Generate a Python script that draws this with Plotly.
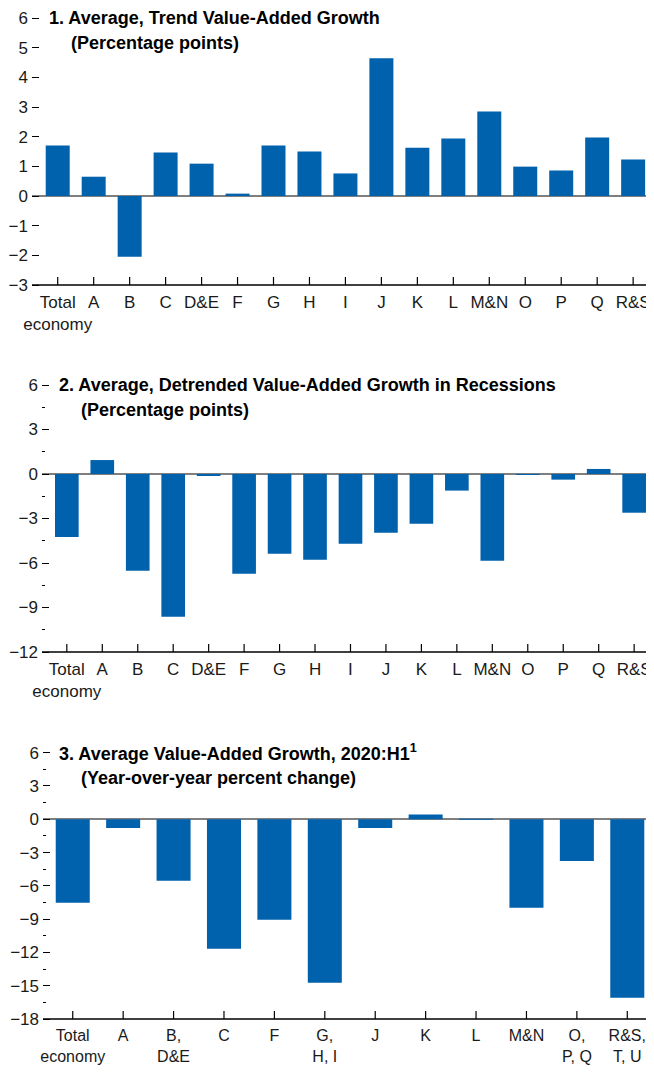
import plotly.graph_objects as go

# ---------------- data ----------------
cats1 = ["Total<br>economy", "A", "B", "C", "D&E", "F", "G", "H", "I", "J", "K",
         "L", "M&N", "O", "P", "Q", "R&S"]
trend_growth = [1.70, 0.65, -2.05, 1.47, 1.09, 0.08, 1.70, 1.50, 0.76, 4.64, 1.63,
                1.94, 2.85, 0.99, 0.86, 1.97, 1.23]

cats2 = cats1
recession_growth = [-4.25, 0.94, -6.52, -9.62, -0.13, -6.72, -5.37, -5.78, -4.70, -3.96,
                    -3.35, -1.12, -5.84, -0.04, -0.38, 0.34, -2.61]

cats3 = ["Total<br>economy", "A", "B,<br>D&E", "C", "F", "G,<br>H, I", "J", "K", "L",
         "M&N", "O,<br>P, Q", "R&S,<br>T, U"]
growth_2020 = [-7.53, -0.78, -5.55, -11.67, -9.06, -14.73, -0.78, 0.42, -0.03,
               -7.98, -3.75, -16.08]

titles = [
    ("1. Average, Trend Value-Added Growth", "(Percentage points)"),
    ("2. Average, Detrended Value-Added Growth in Recessions", "(Percentage points)"),
    ("3. Average Value-Added Growth, 2020:H1<sup>1</sup>", "(Year-over-year percent change)"),
]

# ---------------- style ----------------
OFF = 8                          # page body margin offset
PW, PH = 654, 1074               # page (window) size
W, H = PW - OFF, PH - 2 * OFF    # figure size (no page overflow)
BLUE = "#0061AC"
FONT = "Liberation Sans Narrow, Arial Narrow, Liberation Sans, sans-serif"
TXT = "#1a1a1a"
PAD = 2                          # px of extra range so end ticks are kept


def py(px):
    return 1 - (px - OFF) / H


def pxx(px):
    return (px - OFF) / W


panels = [
    dict(cats=cats1, vals=trend_growth, xl=32, ytop=18, ybot=285,
         yr=[-3, 6], dtick=1, minor=False, xr=[-0.715, 16.58], width=0.667,
         tx=47, xfs=17),
    dict(cats=cats2, vals=recession_growth, xl=42, ytop=385, ybot=652,
         yr=[-12, 6], dtick=3, minor=True, xr=[-0.70, 16.56], width=0.667,
         tx=57, xfs=17),
    dict(cats=cats3, vals=growth_2020, xl=43, ytop=752.7, ybot=1019,
         yr=[-18, 6], dtick=3, minor=True, xr=[-0.59, 11.53], width=0.675,
         tx=57, xfs=16),
]

fig = go.Figure()
layout = dict(
    width=W, height=H, margin=dict(l=0, r=0, t=0, b=0, autoexpand=False),
    paper_bgcolor="white", plot_bgcolor="white", showlegend=False,
    font=dict(family=FONT, size=17, color=TXT),
)
annotations = []
shapes = []

for i, p in enumerate(panels, start=1):
    xa = "x" if i == 1 else f"x{i}"
    ya = "y" if i == 1 else f"y{i}"
    ra = f"y{i + 3}"
    fig.add_trace(go.Bar(x=p["cats"], y=p["vals"], marker=dict(color=BLUE, line=dict(width=0)),
                         width=p["width"], xaxis=xa, yaxis=ya, hoverinfo="skip"))
    fig.add_trace(go.Scatter(x=[p["cats"][0]], y=[p["yr"][0]], mode="markers",
                             marker=dict(opacity=0), xaxis=xa, yaxis=ra, hoverinfo="skip"))
    ppu = (p["ybot"] - p["ytop"]) / (p["yr"][1] - p["yr"][0])   # pixels per unit
    yr = [p["yr"][0] - PAD / ppu, p["yr"][1] + PAD / ppu]
    ydom = [py(p["ybot"] + PAD), py(p["ytop"] - PAD)]
    xkey = "xaxis" if i == 1 else f"xaxis{i}"
    ykey = "yaxis" if i == 1 else f"yaxis{i}"
    layout[xkey] = dict(
        domain=[pxx(p["xl"]), 1], anchor=ya, type="category", range=p["xr"],
        showline=False, ticks="", showgrid=False, zeroline=False,
        tickfont=dict(size=p["xfs"], color=TXT),
        ticklabelstandoff=3, tickangle=0, automargin=False, fixedrange=True,
    )
    ydict = dict(
        domain=ydom, anchor=xa, range=yr, dtick=p["dtick"], tick0=0,
        showline=False, showgrid=False, zeroline=True, zerolinecolor="#7f7f7f",
        zerolinewidth=1.6, ticks="inside", ticklen=7, tickwidth=1.2,
        tickcolor="#000000", tickfont=dict(size=17, color=TXT),
        ticklabelstandoff=3, automargin=False, fixedrange=True,
    )
    if p["minor"]:
        ydict["minor"] = dict(dtick=1.5, tick0=0, ticks="inside", ticklen=3,
                              tickwidth=1.2, tickcolor="#000000", showgrid=False)
    layout[ykey] = ydict
    layout[f"yaxis{i + 3}"] = dict(
        overlaying=ya, anchor=xa, side="right", range=yr, dtick=p["dtick"], tick0=0,
        showline=False, showgrid=False, zeroline=False, ticks="inside", ticklen=5,
        tickwidth=1.2, tickcolor="#000000", showticklabels=False, automargin=False,
        fixedrange=True,
    )
    # titles
    annotations.append(dict(
        text=f"<b>{titles[i - 1][0]}</b>", xref="paper", yref="paper",
        x=pxx(p["tx"]), y=py(p["ytop"]), xanchor="left", yanchor="middle",
        showarrow=False, font=dict(size=18, color="#000000", family=FONT),
    ))
    annotations.append(dict(
        text=f"<b>{titles[i - 1][1]}</b>", xref="paper", yref="paper",
        x=pxx(p["tx"] + 22), y=py(p["ytop"] + 25), xanchor="left", yanchor="middle",
        showarrow=False, font=dict(size=18, color="#000000", family=FONT),
    ))
    # baseline and upward category ticks at the bottom of the panel
    shapes.append(dict(type="line", xref=f"{xa} domain", yref=ya, x0=0, x1=1,
                       y0=p["yr"][0], y1=p["yr"][0], line=dict(color="#000000", width=1.5)))
    for c in p["cats"]:
        shapes.append(dict(type="line", xref=xa, yref=ya, x0=c, x1=c,
                           y0=p["yr"][0], y1=p["yr"][0] + 8 / ppu,
                           line=dict(color="#000000", width=1.2)))

layout["annotations"] = annotations
layout["shapes"] = shapes
fig.update_layout(**layout)
fig.write_html("out.html")
